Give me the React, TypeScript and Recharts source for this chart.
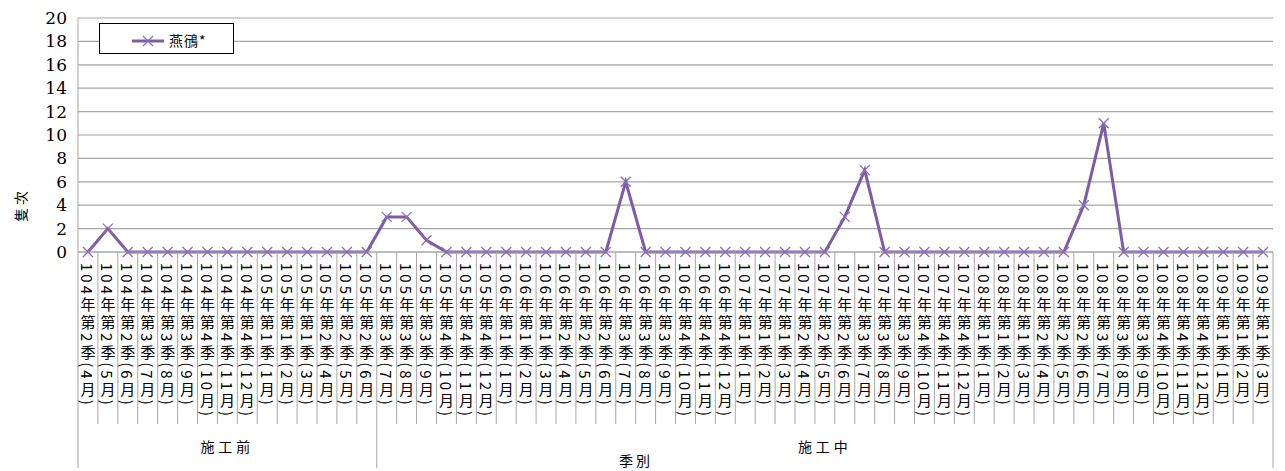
import React from 'react';
import { LineChart, Line, XAxis, YAxis, CartesianGrid, Legend } from 'recharts';

const categories = [
  '104年第2季(4月)', '104年第2季(5月)', '104年第2季(6月)', '104年第3季(7月)', '104年第3季(8月)', '104年第3季(9月)',
  '104年第4季(10月)', '104年第4季(11月)', '104年第4季(12月)', '105年第1季(1月)', '105年第1季(2月)', '105年第1季(3月)',
  '105年第2季(4月)', '105年第2季(5月)', '105年第2季(6月)', '105年第3季(7月)', '105年第3季(8月)', '105年第3季(9月)',
  '105年第4季(10月)', '105年第4季(11月)', '105年第4季(12月)', '106年第1季(1月)', '106年第1季(2月)', '106年第1季(3月)',
  '106年第2季(4月)', '106年第2季(5月)', '106年第2季(6月)', '106年第3季(7月)', '106年第3季(8月)', '106年第3季(9月)',
  '106年第4季(10月)', '106年第4季(11月)', '106年第4季(12月)', '107年第1季(1月)', '107年第1季(2月)', '107年第1季(3月)',
  '107年第2季(4月)', '107年第2季(5月)', '107年第2季(6月)', '107年第3季(7月)', '107年第3季(8月)', '107年第3季(9月)',
  '107年第4季(10月)', '107年第4季(11月)', '107年第4季(12月)', '108年第1季(1月)', '108年第1季(2月)', '108年第1季(3月)',
  '108年第2季(4月)', '108年第2季(5月)', '108年第2季(6月)', '108年第3季(7月)', '108年第3季(8月)', '108年第3季(9月)',
  '108年第4季(10月)', '108年第4季(11月)', '108年第4季(12月)', '109年第1季(1月)', '109年第1季(2月)', '109年第1季(3月)',
];

const ploverCounts = [
  0, 2, 0, 0, 0, 0, 0, 0, 0, 0, 0, 0, 0, 0, 0,
  3, 3, 1, 0, 0, 0, 0, 0, 0, 0, 0, 0, 6, 0, 0,
  0, 0, 0, 0, 0, 0, 0, 0, 3, 7, 0, 0, 0, 0, 0,
  0, 0, 0, 0, 0, 4, 11, 0, 0, 0, 0, 0, 0, 0, 0,
];

const groupNames = ['施工前', '施工中'];
const groupSizes = [15, 45];
const yTicks = [0, 2, 4, 6, 8, 10, 12, 14, 16, 18, 20];
const seriesName = '燕鴴*';

const data = categories.map((c, i) => ({ period: c, count: ploverCounts[i] }));

const W = 1285;
const H = 471;
const LEFT = 78;
const RIGHT = 1273;
const TOP = 18;
const AXIS_Y = 252;
const STEP = (RIGHT - LEFT) / categories.length;
const PURPLE = '#7b5ea7';
const GRID = '#a6a6a6';
const CJK = 'Noto Sans CJK TC';
const SERIF = 'DejaVu Serif';

// group start index -> group index
const groupStarts: Record<number, number> = {};
let acc = 0;
groupSizes.forEach((s, g) => {
  groupStarts[acc] = g;
  acc += s;
});

const Cross = (props: any) => {
  const { cx, cy } = props;
  if (cx == null || cy == null) return null;
  const r = 5;
  return (
    <g stroke="#8a6fb5" strokeWidth={1.3}>
      <line x1={cx - r} y1={cy - r} x2={cx + r} y2={cy + r} />
      <line x1={cx - r} y1={cy + r} x2={cx + r} y2={cy - r} />
    </g>
  );
};

const CategoryTick = (props: any) => {
  const { x, payload, index } = props;
  const left = x - STEP / 2;
  const isGroupStart = groupStarts[index] !== undefined;
  const isLast = index === categories.length - 1;
  let groupLabel = null;
  if (isGroupStart) {
    const g = groupStarts[index];
    const cx = left + (groupSizes[g] * STEP) / 2;
    groupLabel = (
      <text x={cx} y={452} textAnchor="middle" fontFamily={CJK} fontSize={14} letterSpacing={4} fill="#000">
        {groupNames[g]}
      </text>
    );
  }
  return (
    <g>
      <line x1={left} y1={AXIS_Y} x2={left} y2={isGroupStart ? 468 : 424} stroke={GRID} strokeWidth={1} />
      {isLast && <line x1={x + STEP / 2} y1={AXIS_Y} x2={x + STEP / 2} y2={468} stroke={GRID} strokeWidth={1} />}
      <text
        x={x}
        y={263}
        textAnchor="start"
        fill="#000"
        fontFamily={CJK}
        fontSize={15}
        letterSpacing={3}
        style={{ writingMode: 'vertical-rl' } as any}
      >
        {payload.value}
      </text>
      {groupLabel}
    </g>
  );
};

const ValueTick = (props: any) => {
  const { y, payload } = props;
  return (
    <text x={67} y={y} dy={6} textAnchor="end" fontFamily={SERIF} fontSize={17} fill="#000">
      {payload.value}
    </text>
  );
};

const LegendBox = () => (
  <div style={{ width: 135, height: 31, border: '1px solid #000', background: '#fff', boxSizing: 'border-box', position: 'relative' }}>
    <svg width={133} height={29} style={{ position: 'absolute', left: 0, top: 0 }}>
      <line x1={32} y1={17} x2={64} y2={17} stroke={PURPLE} strokeWidth={3} />
      <Cross cx={48} cy={17} />
      <text x={69} y={22} fontFamily={CJK} fontSize={14} letterSpacing={1} fill="#000">
        {seriesName}
      </text>
    </svg>
  </div>
);

export default function App() {
  return (
    <div style={{ position: 'absolute', left: 0, top: 0, width: W, height: H, background: '#fff' }}>
      <LineChart width={W} height={H} data={data} margin={{ top: TOP, right: W - RIGHT, left: 0, bottom: 0 }}>
        <CartesianGrid vertical={false} stroke={GRID} strokeWidth={1.2} />
        <XAxis
          dataKey="period"
          scale="band"
          interval={0}
          height={H - AXIS_Y}
          axisLine={{ stroke: GRID }}
          tickLine={false}
          tick={(p: any) => <CategoryTick {...p} />}
          label={{
            value: '季別',
            position: 'insideBottom',
            content: () => (
              <text x={636} y={466} textAnchor="middle" fontFamily={CJK} fontSize={14} letterSpacing={3} fill="#000">
                季別
              </text>
            ),
          }}
        />
        <YAxis
          width={LEFT}
          domain={[0, 20]}
          ticks={yTicks}
          interval={0}
          axisLine={{ stroke: GRID }}
          tickLine={false}
          tick={(p: any) => <ValueTick {...p} />}
          label={{
            value: '隻次',
            content: () => (
              <text x={26} y={205} transform="rotate(-90 26 205)" textAnchor="middle" fontFamily={CJK} fontSize={14} letterSpacing={3} fill="#000">
                隻次
              </text>
            ),
          }}
        />
        <Legend
          layout="vertical"
          align="center"
          verticalAlign="middle"
          wrapperStyle={{ left: 99, top: 23, width: 135, height: 31 }}
          content={() => <LegendBox />}
        />
        <Line
          type="linear"
          dataKey="count"
          name={seriesName}
          stroke={PURPLE}
          strokeWidth={3}
          dot={<Cross />}
          activeDot={false}
          isAnimationActive={false}
        />
      </LineChart>
    </div>
  );
}
